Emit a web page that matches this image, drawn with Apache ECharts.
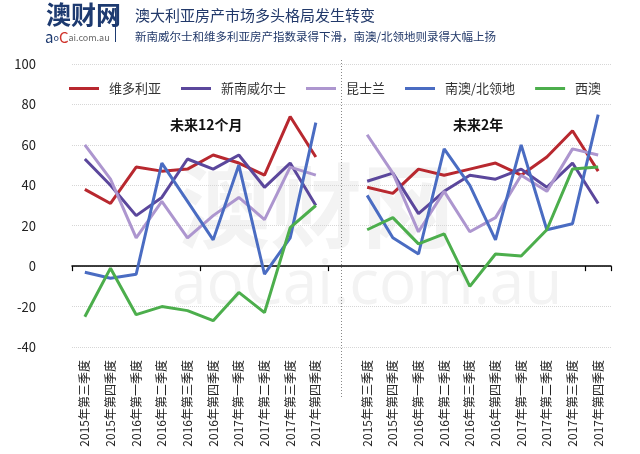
<!DOCTYPE html>
<html>
<head>
<meta charset="utf-8">
<script src="https://cdn.jsdelivr.net/npm/echarts@6/dist/echarts.min.js"></script>
<style>
html,body{margin:0;padding:0;background:#fff;}
#c{width:640px;height:454px;}
</style>
</head>
<body>
<div id="c"></div>
<script>
var quarters = ['2015年第三季度','2015年第四季度','2016年第一季度','2016年第二季度','2016年第三季度','2016年第四季度','2017年第一季度','2017年第二季度','2017年第三季度','2017年第四季度'];
var seriesNames = ['维多利亚','新南威尔士','昆士兰','南澳/北领地','西澳'];
// 未来12个月
var vic12 = [38, 31, 49, 47, 48, 55, 51, 45, 74, 54];
var nsw12 = [53, 40, 25, 34, 53, 48, 55, 39, 51, 30];
var qld12 = [60, 43, 14, 32, 14, 25, 34, 23, 49, 45];
var sa12  = [-3, -6, -4, 51, 32, 13, 50, -4, 14, 71];
var wa12  = [-25, -1, -24, -20, -22, -27, -13, -23, 19, 30];
// 未来2年
var vic2 = [39, 36, 48, 45, 48, 51, 45, 54, 67, 47];
var nsw2 = [42, 46, 26, 37, 45, 43, 48, 39, 51, 31];
var qld2 = [65, 46, 17, 37, 17, 24, 45, 37, 58, 55];
var sa2  = [35, 14, 6, 58, 40, 13, 60, 18, 21, 75];
var wa2  = [18, 24, 11, 16, -10, 6, 5, 18, 48, 49];
var yTicks = {min: -40, max: 100, interval: 20};

var colors = ['#b8282f','#5b479c','#ad96cf','#4a6cc2','#4cae4c'];
var categories = quarters.concat([' ']).concat(quarters);
var left = [vic12, nsw12, qld12, sa12, wa12];
var right = [vic2, nsw2, qld2, sa2, wa2];
var gapIndex = quarters.length;

var chart = echarts.init(document.getElementById('c'));
var font = '"Noto Sans CJK SC", "Noto Sans", sans-serif';
var series = seriesNames.map(function(n, i){
  return {
    name: n, type: 'line', symbol: 'none', smooth: false,
    connectNulls: false,
    data: left[i].concat([null]).concat(right[i]),
    lineStyle: {width: 3, color: colors[i]},
    itemStyle: {color: colors[i]},
    z: 3
  };
});

var baseGraphic = [
  {type: 'text', left: 46, top: 2, z: 10, style: {text: '澳财网', font: 'bold 25px ' + font, fill: '#1d3a70'}},
  {type: 'text', left: 45, top: 30, z: 10,
     style: {text: '{a|a}{o|o}{c|C}{r|ai.com.au}', rich: {
       a: {fontSize: 15, fill: '#1d3a70', fontFamily: font},
       o: {fontSize: 9, fill: '#1d3a70', fontFamily: font},
       c: {fontSize: 15, fill: '#d0342c', fontFamily: font},
       r: {fontSize: 9, fill: '#666', fontFamily: font}
     }}},
  {type: 'rect', left: 115, top: 8, z: 10, shape: {width: 1, height: 34}, style: {fill: '#1d3a70'}},
  {type: 'text', left: 178, top: 160, z: 0, silent: true, style: {text: '澳财网', font: 'bold 92px ' + font, fill: '#f3f3f3'}},
  {type: 'text', left: 172, top: 255, z: 0, silent: true, style: {text: 'aoCai.com.au', font: '62px "Open Sans", sans-serif', fill: '#f3f3f3'}}
];

chart.setOption({
  animation: false,
  backgroundColor: '#fff',
  textStyle: {fontFamily: font},
  grid: {left: 72, right: 29, top: 64, bottom: 107},
  title: [
    {text: '澳大利亚房产市场多头格局发生转变', left: 130, top: 3,
     textStyle: {fontSize: 15, fontWeight: 'normal', color: '#22396a', fontFamily: font}},
    {text: '新南威尔士和维多利亚房产指数录得下滑，南澳/北领地则录得大幅上扬', left: 130, top: 26,
     textStyle: {fontSize: 11.5, fontWeight: 'normal', color: '#22396a', fontFamily: font}},
    {text: '未来12个月', left: 165, top: 113,
     textStyle: {fontSize: 14, fontWeight: 'bold', color: '#111', fontFamily: font}},
    {text: '未来2年', left: 448, top: 113,
     textStyle: {fontSize: 14, fontWeight: 'bold', color: '#111', fontFamily: font}}
  ],
  graphic: baseGraphic,
  legend: {
    top: 77, left: 64, itemWidth: 30, itemHeight: 3, itemGap: 20,
    icon: 'rect',
    textStyle: {fontSize: 13, color: '#333', fontFamily: font, padding: [0, 0, 0, 5]},
    data: seriesNames
  },
  xAxis: [
    {type: 'category', data: categories, boundaryGap: true, position: 'bottom',
     axisLine: {onZero: true, lineStyle: {color: '#000', width: 1.5}},
     axisTick: {show: true, length: 5, lineStyle: {color: '#000', width: 1.2}},
     axisLabel: {show: false}, splitLine: {show: false}},
    {type: 'category', data: categories, boundaryGap: true, position: 'bottom',
     axisLine: {show: false, onZero: false}, axisTick: {show: false},
     axisLabel: {rotate: 90, fontSize: 12, color: '#222', margin: 13, interval: 0, fontFamily: font},
     splitLine: {show: false}}
  ],
  yAxis: {
    type: 'value', min: yTicks.min, max: yTicks.max, interval: yTicks.interval,
    axisLine: {show: false}, axisTick: {show: false},
    axisLabel: {fontSize: 13, color: '#222', margin: 36, fontFamily: font},
    splitLine: {lineStyle: {type: 'dotted', color: '#d6d6d6', width: 1}}
  },
  series: series
});

// divider between the two panels, positioned through the library's scales
var px = chart.convertToPixel({xAxisIndex: 0}, gapIndex);
var topPx = chart.convertToPixel({yAxisIndex: 0}, yTicks.max);
var botPx = chart.convertToPixel({yAxisIndex: 0}, yTicks.min);
chart.setOption({graphic: baseGraphic.concat([
  {type: 'line', z: 1, silent: true,
   shape: {x1: px, y1: topPx - 4, x2: px, y2: botPx + 52},
   style: {stroke: '#888', lineWidth: 1, lineDash: [1, 2]}}
])});
</script>
</body>
</html>
